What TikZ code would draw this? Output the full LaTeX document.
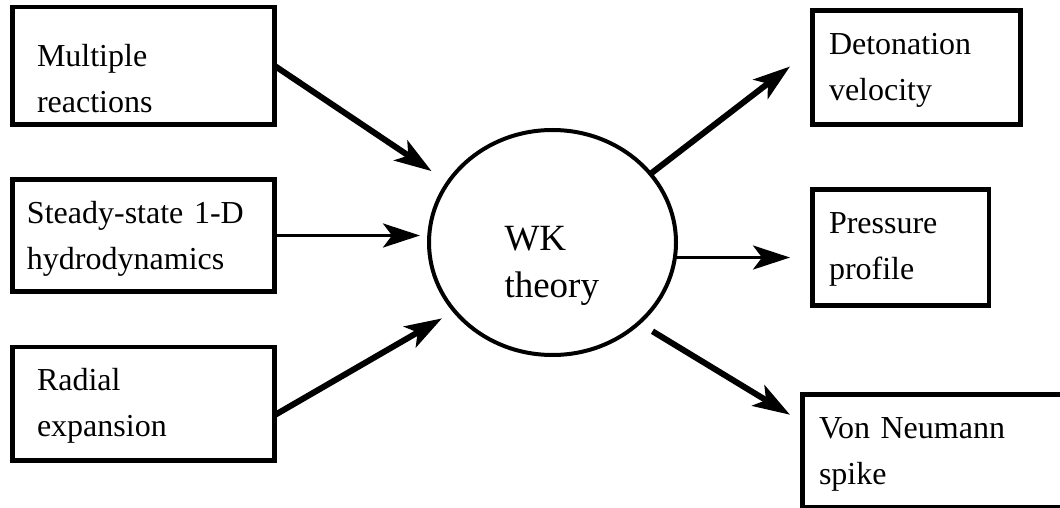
\documentclass[tikz,border=0pt]{standalone}
\usepackage{fontspec}
\setmainfont{Liberation Serif}
\usetikzlibrary{arrows.meta,shapes.geometric}

\tikzset{
  boite/.style={draw, line width=4.5pt, inner ysep=0pt, outer sep=0pt,
    align=left, anchor=north west, font=\fontsize{32}{46}\selectfont},
  fleche/.style={-{Stealth[length=37pt,width=24pt,inset=9pt]}, line width=6pt},
  fleche fine/.style={fleche, line width=3.5pt},
}

\begin{document}
\begin{tikzpicture}[x=1pt,y=-1pt]
    \useasboundingbox (0,0) rectangle (1060,508);

    % Boites a gauche
    \node[boite, inner xsep=24.5pt, text width=213pt, text height=60pt, text depth=57.5pt]
        (multi) at (12.5,7) {Multiple\\reactions};
    \node[boite, inner xsep=14.5pt, text width=233pt, text height=43.5pt, text depth=68.5pt]
        (steady) at (12.5,179.5) {Steady-state 1-D\\hydrodynamics};
    \node[boite, inner xsep=24.5pt, text width=213pt, text height=43pt, text depth=70.5pt]
        (radial) at (12.5,347) {Radial\\expansion};

    % Cercle central
    \node[draw, ellipse, line width=4pt, minimum width=247pt, minimum height=225pt,
        inner sep=0pt, outer sep=0pt, text width=96pt, align=left,
        text height=70pt, text depth=55pt, font=\fontsize{37}{47}\selectfont]
        (wk) at (552.5,242.5) {WK\\theory};

    % Boites a droite
    \node[boite, inner xsep=16.5pt, text width=175pt, text height=44.5pt, text depth=69.5pt]
        (deto) at (812.5,10.5) {Detonation\\velocity};
    \node[boite, inner xsep=16.5pt, text width=143.5pt, text height=43.5pt, text depth=72.5pt]
        (press) at (812.5,189.5) {Pressure\\profile};
    \node[boite, inner xsep=16.5pt, text width=234.5pt, text height=43.5pt, text depth=69pt]
        (vonn) at (802.5,394.5) {Von Neumann\\spike};

    % Fleches entrantes
    \draw[fleche, shorten >=20pt] (multi.east) -- (wk.150);
    \draw[fleche fine, shorten >=9pt] (steady.east) -- (steady.east -| wk.west);
    \draw[fleche, shorten >=14.6pt] (radial.-5) -- (wk.215);

    % Fleches sortantes
    \draw[fleche, shorten >=28.4pt] (wk.35) -- (deto.170);
    \draw[fleche fine, shorten >=22.5pt] (wk.-7) -- (wk.-7 -| press.west);
    \draw[fleche, shorten <=16pt, shorten >=14.6pt] (wk.-43.5) -- (vonn.168);
\end{tikzpicture}
\end{document}
